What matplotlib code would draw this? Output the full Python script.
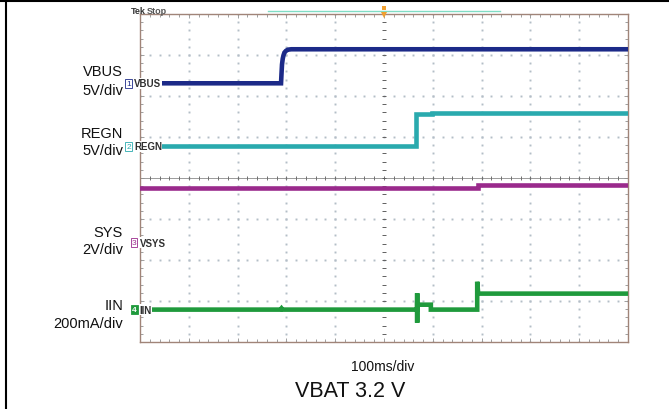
import numpy as np
import matplotlib
matplotlib.use("Agg")
import matplotlib.pyplot as plt
from matplotlib.lines import Line2D

plt.rcParams['font.family'] = ['Liberation Sans', 'DejaVu Sans']

W, H = 669, 410

# scope settings: 100 ms/div, 10 x 8 divisions
ms_per_div = 100
channels = ['VBUS', 'REGN', 'SYS', 'IIN']
tags = ['VBUS', 'REGN', 'VSYS', 'IIN']
scale_labels = ['5V/div', '5V/div', '2V/div', '200mA/div']
scales = [5, 5, 2, 200]            # units per division
offsets = [2.31, 0.78, -1.58, -3.21]  # ground marker position (div)
colors = ['#1c2a88', '#2aaaae', '#9a2a8c', '#1f9a3c']

# traces (time in ms, value in V or mA)
t_vbus = [0, 289, 290, 291, 292.5, 294, 296, 299, 303, 310, 1000]
v_vbus = [0, 0, 1.2, 2.3, 3.0, 3.4, 3.75, 3.95, 4.1, 4.15, 4.15]

t_regn = [0, 566, 566, 598, 598, 693, 693, 1000]
v_regn = [0, 0, 3.9, 3.9, 4.08, 4.08, 4.0, 4.0]

t_sys = [0, 693, 693, 1000]
v_sys = [2.68, 2.68, 2.82, 2.82]

t_iin = [0, 288, 290, 292, 568, 568, 568, 568, 596, 596, 691, 691, 693, 1000]
i_iin = [0, 0, 6, 0, 0, 80, -64, 24, 24, 0, 0, 136, 78, 78]

traces = [(t_vbus, v_vbus), (t_regn, v_regn), (t_sys, v_sys), (t_iin, i_iin)]

fig = plt.figure(figsize=(W / 100, H / 100), dpi=100)
fig.patch.set_facecolor('white')

L, R, T, B = 140, 628, 15, 343
ax = fig.add_axes([L / W, 1 - B / H, (R - L) / W, (B - T) / H])
ax.set_xlim(0, 10)
ax.set_ylim(-4, 4)

# graticule: dotted grid
dot_c = '#b3bec7'
for gx in range(1, 10):
    if gx == 5:
        continue
    ys = np.arange(-4, 4.01, 0.2)
    ax.plot(np.full_like(ys, gx), ys, ls='none', marker='s', ms=1.4, mew=0, color=dot_c, zorder=1)
for gy in range(-3, 4):
    if gy == 0:
        continue
    xs = np.arange(0, 10.01, 0.2)
    ax.plot(xs, np.full_like(xs, gy), ls='none', marker='s', ms=1.4, mew=0, color=dot_c, zorder=1)

# center cross with ticks
ax.axhline(0, color='#8a8a8a', lw=0.6, zorder=1)
xs = np.arange(0, 10.01, 0.2)
ax.plot(xs, np.zeros_like(xs), ls='none', marker='|', ms=3, mew=0.7, color='#707070', zorder=1)
ys = np.arange(-4, 4.01, 0.2)
ax.plot(np.full_like(ys, 5), ys, ls='none', marker='_', ms=3, mew=0.7, color='#606060', zorder=1)

# frame and edge ticks
for s in ax.spines.values():
    s.set_color('#a08478')
    s.set_linewidth(1.0)
ax.set_xticks(range(0, 11))
ax.set_yticks(range(-4, 5))
ax.set_xticks(np.arange(0, 10.01, 0.2), minor=True)
ax.set_yticks(np.arange(-4, 4.01, 0.2), minor=True)
ax.tick_params(which='both', direction='in', top=True, right=True,
               labelbottom=False, labelleft=False, color='#8f8f8f', width=0.6)
ax.tick_params(which='major', length=3)
ax.tick_params(which='minor', length=2)

# traces
for (t, v), sc, off, c in zip(traces, scales, offsets, colors):
    x = np.array(t) / ms_per_div
    y = off + np.array(v) / sc
    ax.plot(x, y, color=c, lw=3.3, solid_joinstyle='miter', zorder=3)

# channel tags
tag_x = [-0.235, -0.235, -0.12, -0.12]
for k, (tag, off, c) in enumerate(zip(tags, offsets, colors)):
    num = str(k + 1)
    if k == 3:
        ax.text(tag_x[k], off, num, fontsize=6, color='white', ha='center', va='center',
                fontweight='bold', clip_on=False, zorder=6,
                bbox=dict(boxstyle='square,pad=0.12', fc=c, ec=c, lw=0.6))
    else:
        ax.text(tag_x[k], off, num, fontsize=6, color=c, ha='center', va='center',
                clip_on=False, zorder=6,
                bbox=dict(boxstyle='square,pad=0.12', fc='white', ec=c, lw=0.6))
    ax.text(tag_x[k] + 0.11, off, tag, fontsize=7, color='#303030', ha='left', va='center',
            fontweight='bold', clip_on=False, zorder=6,
            bbox=dict(boxstyle='square,pad=0.05', fc='white', ec='none'))

# left labels
label_base = [(76, 95), (138, 155), (237, 254), (310, 328)]
for name, sl, (y1, y2) in zip(channels, scale_labels, label_base):
    fig.text(123 / W, 1 - y1 / H, name, fontsize=10.5, ha='right', va='baseline', color='#111111')
    fig.text(123 / W, 1 - y2 / H, sl, fontsize=10.5, ha='right', va='baseline', color='#111111')

# scope header
fig.text(131 / W, 1 - 14 / H, 'Tek', fontsize=6.5, fontweight='bold', color='#333333', va='baseline')
fig.text(147 / W, 1 - 14 / H, 'Stop', fontsize=6.5, fontweight='bold', color='#555555', va='baseline')
fig.add_artist(Line2D([268 / W, 500 / W], [1 - 12 / H, 1 - 12 / H], color='#80dcc4', lw=1.0))
fig.add_artist(Line2D([384 / W], [1 - 9 / H], marker='s', ms=2.5, mew=0, color='#f0a030'))
fig.add_artist(Line2D([384 / W], [1 - 16 / H], marker='v', ms=4, mew=0, color='#f0a030'))

# captions
fig.text(383 / W, 1 - 371 / H, '100ms/div', fontsize=10, ha='center', va='baseline', color='#111111')
fig.text(350 / W, 1 - 397 / H, 'VBAT 3.2 V', fontsize=15.5, ha='center', va='baseline', color='#111111')

# outer border (top and left)
fig.add_artist(Line2D([0, 1], [1 - 2 / H, 1 - 2 / H], color='black', lw=1.5))
fig.add_artist(Line2D([6 / W, 6 / W], [0, 1 - 2 / H], color='black', lw=1.5))

fig.savefig('out.png', dpi=100)
